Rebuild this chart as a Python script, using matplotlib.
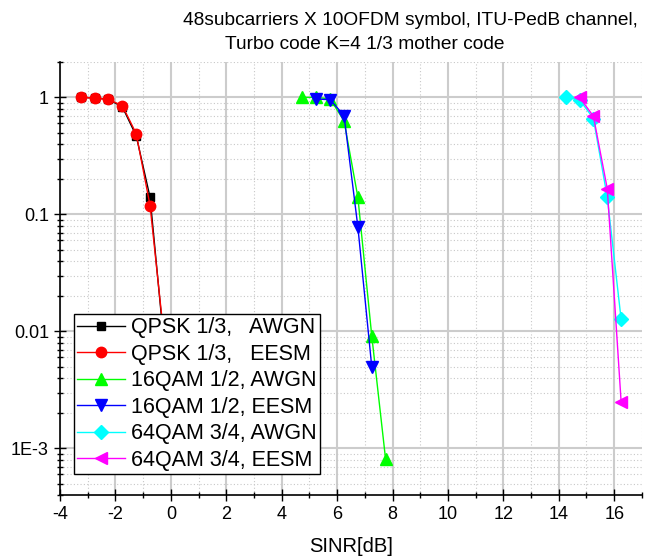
import matplotlib
matplotlib.use("Agg")
import matplotlib.pyplot as plt
from matplotlib.ticker import FixedLocator, FixedFormatter, LogLocator, MultipleLocator, NullFormatter

plt.rcParams['font.family'] = ['Liberation Sans', 'DejaVu Sans']
plt.rcParams['axes.unicode_minus'] = False

# data
qpsk_x = [-3.25, -2.75, -2.25, -1.75, -1.25, -0.75, -0.25]
qpsk_awgn = [1.0, 0.99, 0.96, 0.83, 0.47, 0.14, 0.008]
qpsk_eesm = [1.0, 0.99, 0.96, 0.85, 0.49, 0.119, 0.009]

qam16_awgn_x = [4.75, 5.25, 5.75, 6.25, 6.75, 7.25, 7.75]
qam16_awgn = [1.0, 1.0, 0.97, 0.63, 0.14, 0.0092, 0.00081]
qam16_eesm_x = [5.25, 5.75, 6.25, 6.75, 7.25]
qam16_eesm = [0.97, 0.955, 0.70, 0.078, 0.005]

qam64_awgn_x = [14.25, 14.75, 15.25, 15.75, 16.25]
qam64_awgn = [1.0, 0.955, 0.66, 0.14, 0.0127]
qam64_eesm_x = [14.75, 15.25, 15.75, 16.25]
qam64_eesm = [1.0, 0.69, 0.166, 0.0025]

y_ticks = [1e-3, 1e-2, 1e-1, 1]
y_labels = ['1E-3', '0.01', '0.1', '1']

fig = plt.figure(figsize=(6.48, 5.6), dpi=100)
ax = fig.add_axes([0.0926, 0.116, 0.898, 0.773])

ax.plot(qpsk_x, qpsk_awgn, color='black', lw=1, marker='s', ms=5.5,
        label='QPSK 1/3,   AWGN')
ax.plot(qpsk_x, qpsk_eesm, color='red', lw=1, marker='o', ms=7.5,
        label='QPSK 1/3,   EESM')
ax.plot(qam16_awgn_x, qam16_awgn, color='#00ff00', lw=1, marker='^', ms=8,
        label='16QAM 1/2, AWGN')
ax.plot(qam16_eesm_x, qam16_eesm, color='blue', lw=1, marker='v', ms=8,
        label='16QAM 1/2, EESM')
ax.plot(qam64_awgn_x, qam64_awgn, color='cyan', lw=1, marker='D', ms=7,
        label='64QAM 3/4, AWGN')
ax.plot(qam64_eesm_x, qam64_eesm, color='magenta', lw=1, marker='<', ms=8,
        label='64QAM 3/4, EESM')

ax.set_yscale('log')
ax.set_xlim(-4, 17)
ax.set_ylim(4e-4, 2)

ax.xaxis.set_major_locator(FixedLocator(list(range(-4, 17, 2))))
ax.xaxis.set_minor_locator(MultipleLocator(1))
ax.yaxis.set_major_locator(FixedLocator(y_ticks))
ax.yaxis.set_major_formatter(FixedFormatter(y_labels))
ax.yaxis.set_minor_locator(LogLocator(base=10, subs=range(2, 10)))
ax.yaxis.set_minor_formatter(NullFormatter())

ax.tick_params(which='major', direction='inout', length=9, width=1, labelsize=13)
ax.tick_params(which='minor', direction='inout', length=5, width=1)

ax.grid(which='major', color='#cccccc', lw=1.5, ls='-')
ax.grid(which='minor', color='#c8c8c8', lw=0.8, ls=(0, (1, 2)))
ax.set_axisbelow(True)

for s in ['top', 'right']:
    ax.spines[s].set_visible(False)
for s in ['left', 'bottom']:
    ax.spines[s].set_linewidth(1.2)

ax.set_xlabel('SINR[dB]', fontsize=14.5, labelpad=10)

leg = ax.legend(loc='lower left', bbox_to_anchor=(0.024, 0.048), borderaxespad=0,
                fontsize=15.5, handlelength=2.2, handletextpad=0.3,
                labelspacing=0.26, borderpad=0.15, fancybox=False, framealpha=1,
                edgecolor='black')
leg.get_frame().set_linewidth(1)
leg.set_zorder(10)

fig.text(0.633, 0.963, '48subcarriers X 10OFDM symbol, ITU-PedB channel,',
         ha='center', va='center', fontsize=13.8)
fig.text(0.563, 0.92, 'Turbo code K=4 1/3 mother code',
         ha='center', va='center', fontsize=13.8)

fig.savefig('out.png', dpi=100)
